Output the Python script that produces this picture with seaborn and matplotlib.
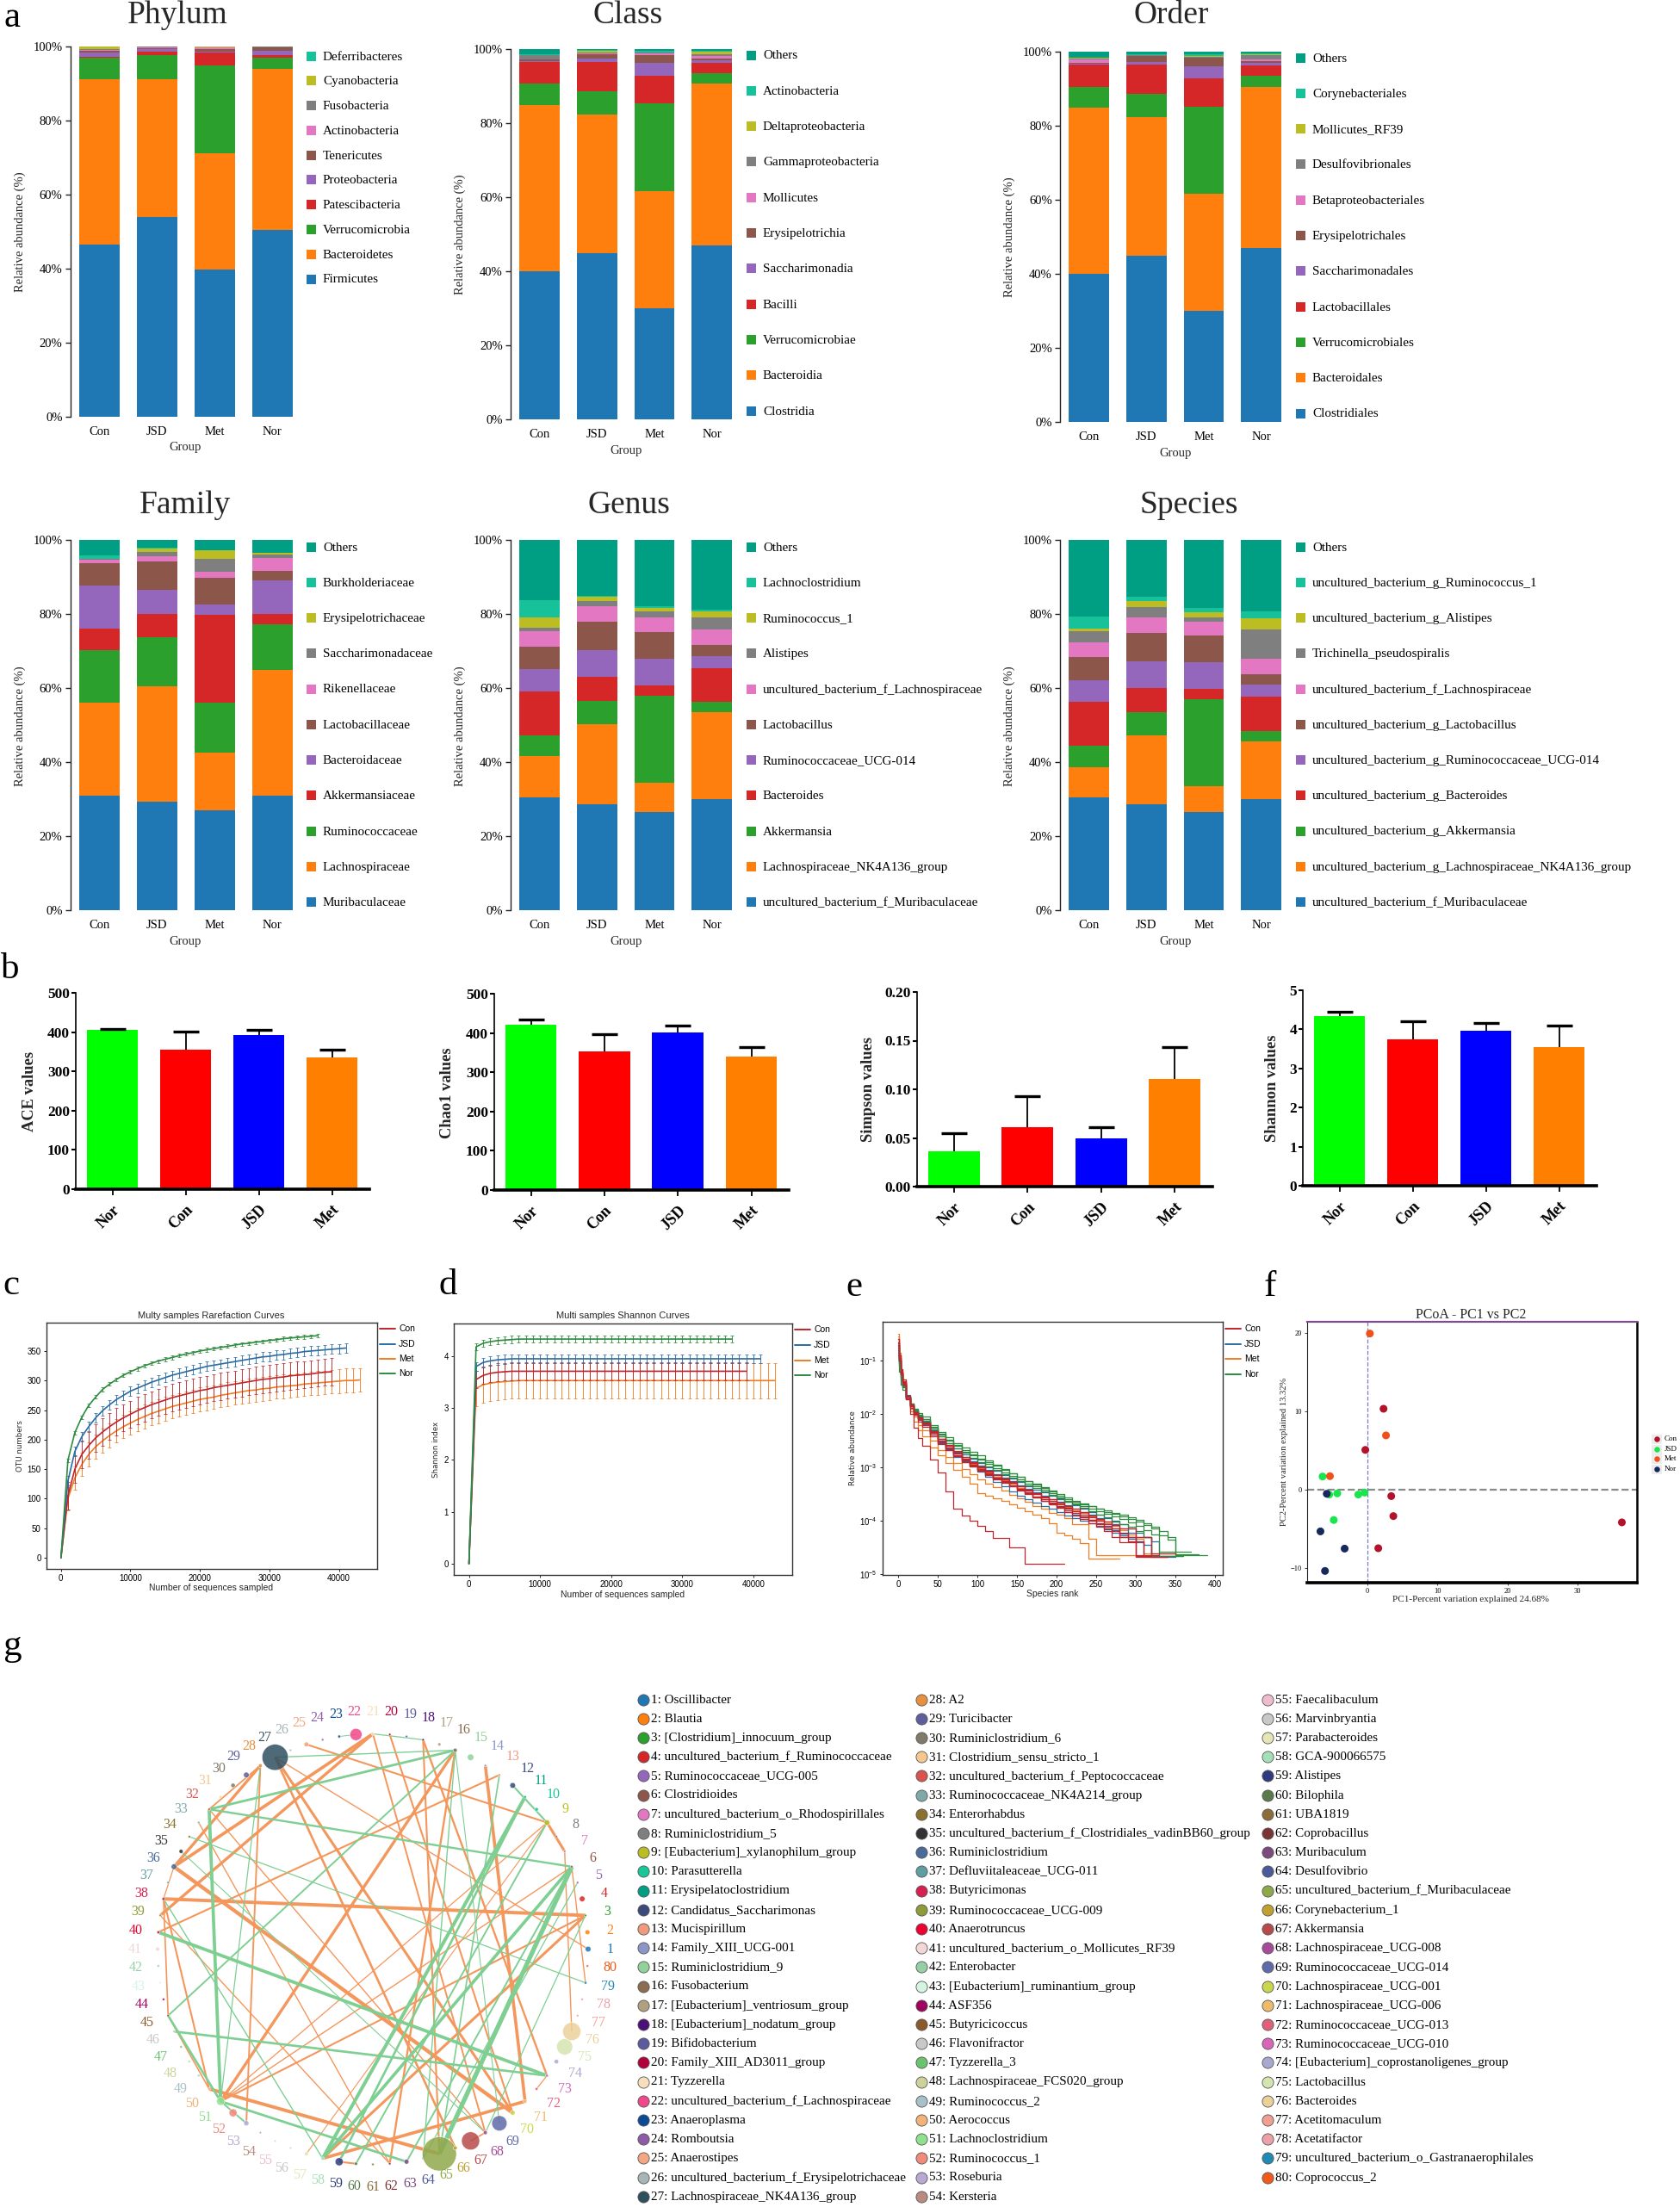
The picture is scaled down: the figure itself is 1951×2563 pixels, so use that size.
import numpy as np
import pandas as pd
import matplotlib
matplotlib.use('Agg')
import matplotlib.pyplot as plt
from matplotlib.patches import Rectangle
import seaborn as sns

sns.set_theme(style="ticks")
plt.rcParams['font.family'] = ['Liberation Serif', 'DejaVu Sans']
plt.rcParams['mathtext.fontset'] = 'dejavusans'

W, H = 1951, 2563

# ---------- panel a: stacked composition, cumulative tops ----------
groups = ['Con', 'JSD', 'Met', 'Nor']
stack_colors = ['#1f77b4', '#ff7f0e', '#2ca02c', '#d62728', '#9467bd', '#8c564b', '#e377c2',
                '#7f7f7f', '#bcbd22', '#17c29a', '#009e83']

phylum_names = ['Firmicutes', 'Bacteroidetes', 'Verrucomicrobia', 'Patescibacteria', 'Proteobacteria',
                'Tenericutes', 'Actinobacteria', 'Fusobacteria', 'Cyanobacteria', 'Deferribacteres']
phylum_con = [46.4, 91.1, 96.8, 97.0, 98.3, 98.7, 99.0, 99.3, 99.9, 100]
phylum_jsd = [53.8, 91.1, 97.5, 98.5, 99.1, 99.5, 99.7, 99.8, 99.85, 100]
phylum_met = [39.6, 71.1, 94.7, 98.2, 98.4, 99.2, 99.6, 99.75, 99.85, 100]
phylum_nor = [50.3, 93.9, 96.8, 97.5, 98.7, 99.6, 99.75, 99.85, 99.9, 100]

class_names = ['Clostridia', 'Bacteroidia', 'Verrucomicrobiae', 'Bacilli', 'Saccharimonadia', 'Erysipelotrichia',
               'Mollicutes', 'Gammaproteobacteria', 'Deltaproteobacteria', 'Actinobacteria', 'Others']
class_con = [40, 84.9, 90.6, 96.6, 96.7, 97.2, 97.2, 98.3, 98.4, 98.5, 100]
class_jsd = [45, 82.4, 88.7, 96.5, 97.4, 98.6, 98.8, 99.1, 99.6, 99.7, 100]
class_met = [30, 61.6, 85.3, 92.9, 96.2, 98.3, 98.8, 99.0, 99.05, 99.6, 100]
class_nor = [47, 90.7, 93.5, 96.2, 97.0, 97.5, 98.2, 98.5, 99.3, 99.6, 100]

order_names = ['Clostridiales', 'Bacteroidales', 'Verrucomicrobiales', 'Lactobacillales', 'Saccharimonadales',
               'Erysipelotrichales', 'Betaproteobacteriales', 'Desulfovibrionales', 'Mollicutes_RF39',
               'Corynebacteriales', 'Others']
order_con = [40, 84.9, 90.4, 96.6, 96.7, 97.0, 97.8, 98.2, 98.3, 98.3, 100]
order_jsd = [45, 82.3, 88.7, 96.4, 97.2, 98.8, 98.8, 99.0, 99.1, 99.2, 100]
order_met = [30, 61.6, 85.2, 92.8, 96.1, 98.3, 98.4, 98.5, 98.9, 99.3, 100]
order_nor = [47, 90.5, 93.4, 96.2, 97.0, 97.4, 97.9, 99.1, 99.3, 99.6, 100]

family_names = ['Muribaculaceae', 'Lachnospiraceae', 'Ruminococcaceae', 'Akkermansiaceae', 'Bacteroidaceae',
                'Lactobacillaceae', 'Rikenellaceae', 'Saccharimonadaceae', 'Erysipelotrichaceae',
                'Burkholderiaceae', 'Others']
family_con = [31, 56, 70.3, 76, 87.7, 93.7, 94.7, 94.9, 94.95, 95.8, 100]
family_jsd = [29.2, 60.5, 73.7, 80, 86.6, 94.2, 95.6, 96.7, 97.7, 97.8, 100]
family_met = [26.9, 42.6, 56.1, 79.8, 82.5, 89.8, 91.4, 94.9, 97.1, 97.2, 100]
family_nor = [31, 64.8, 77.1, 80, 89, 91.7, 95.2, 96, 96.5, 96.6, 100]

genus_names = ['uncultured_bacterium_f_Muribaculaceae', 'Lachnospiraceae_NK4A136_group', 'Akkermansia', 'Bacteroides',
               'Ruminococcaceae_UCG-014', 'Lactobacillus', 'uncultured_bacterium_f_Lachnospiraceae', 'Alistipes',
               'Ruminococcus_1', 'Lachnoclostridium', 'Others']
genus_con = [30.4, 41.7, 47.3, 59.1, 65.1, 71.2, 75.3, 76.3, 79.1, 83.7, 100]
genus_jsd = [28.7, 50.2, 56.6, 63, 70.3, 77.9, 82.1, 83.6, 84.7, 84.8, 100]
genus_met = [26.6, 34.4, 58, 60.8, 67.9, 75.2, 79, 80.7, 81.6, 82.2, 100]
genus_nor = [30.1, 53.4, 56.2, 65.4, 68.7, 71.6, 75.7, 79.1, 80.6, 81.1, 100]

species_names = ['uncultured_bacterium_f_Muribaculaceae', 'uncultured_bacterium_g_Lachnospiraceae_NK4A136_group',
                 'uncultured_bacterium_g_Akkermansia', 'uncultured_bacterium_g_Bacteroides',
                 'uncultured_bacterium_g_Ruminococcaceae_UCG-014', 'uncultured_bacterium_g_Lactobacillus',
                 'uncultured_bacterium_f_Lachnospiraceae', 'Trichinella_pseudospiralis',
                 'uncultured_bacterium_g_Alistipes', 'uncultured_bacterium_g_Ruminococcus_1', 'Others']
species_con = [30.4, 38.7, 44.4, 56.2, 62.2, 68.4, 72.4, 75.3, 76.1, 79.2, 100]
species_jsd = [28.7, 47.2, 53.6, 60, 67.3, 74.9, 79, 81.9, 83.5, 84.7, 100]
species_met = [26.6, 33.4, 57, 59.8, 66.9, 74.3, 77.9, 79, 80.5, 81.7, 100]
species_nor = [30.1, 45.6, 48.4, 57.6, 61, 63.8, 67.9, 75.7, 78.8, 80.6, 100]

# ---------- panel b: alpha diversity ----------
alpha_order = ['Nor', 'Con', 'JSD', 'Met']
alpha_colors = ['#00ff00', '#ff0000', '#0000ff', '#ff8000']
ace_values = [405, 355, 393, 335]
ace_tops = [408, 402, 405, 355]
chao_values = [421, 353, 401, 340]
chao_tops = [435, 398, 418, 365]
simpson_values = [0.036, 0.0607, 0.05, 0.111]
simpson_tops = [0.0548, 0.093, 0.0607, 0.1437]
shannon_values = [4.35, 3.74, 3.97, 3.55]
shannon_tops = [4.46, 4.21, 4.155, 4.095]

# ---------- panel c: rarefaction, one value every 1000 sequences ----------
curve_colors = {'Con': '#c0242c', 'JSD': '#2b6ca3', 'Met': '#f07d22', 'Nor': '#2e8b3f'}
draw_order = ['Met', 'Con', 'JSD', 'Nor']
otu_con = [0, 105, 150, 175, 190, 203, 213, 222, 230, 237, 243, 249, 254, 259, 263, 267, 271, 274, 277, 280,
           283, 285, 288, 290, 292, 294, 296, 298, 300, 302, 303, 305, 306, 308, 309, 310, 311, 313, 314, 315]
otu_jsd = [0, 130, 180, 205, 222, 237, 249, 259, 268, 275, 282, 287, 292, 297, 301, 305, 309, 312, 315, 318,
           321, 324, 326, 328, 330, 332, 334, 336, 338, 340, 341, 343, 344, 346, 347, 349, 350, 351, 352, 353, 354, 355]
otu_met = [0, 100, 135, 158, 175, 188, 198, 207, 215, 222, 228, 234, 239, 244, 248, 252, 256, 259, 262, 265,
           268, 270, 272, 275, 277, 279, 281, 283, 284, 286, 287, 289, 290, 291, 292, 294, 295, 296, 297, 298,
           299, 300, 300, 301]
otu_nor = [0, 165, 212, 238, 258, 272, 285, 294, 302, 309, 315, 320, 325, 329, 333, 336, 339, 342, 345, 347,
           350, 352, 354, 356, 358, 360, 362, 363, 365, 366, 368, 369, 371, 372, 373, 374, 375, 376]
otu_err = {'Con': 23, 'JSD': 8, 'Met': 20, 'Nor': 3}

# ---------- panel d: Shannon curves ----------
sh_con = [0, 3.55, 3.63, 3.67, 3.69, 3.70] + [3.71] * 34
sh_jsd = [0, 3.80, 3.88, 3.91, 3.93, 3.94] + [3.95] * 36
sh_met = [0, 3.38, 3.45, 3.48, 3.50, 3.51, 3.52] + [3.53] * 37
sh_nor = [0, 4.18, 4.25, 4.28, 4.30, 4.31, 4.32] + [4.33] * 31
sh_err = {'Con': 0.17, 'JSD': 0.09, 'Met': 0.34, 'Nor': 0.07}

# ---------- panel e: rank abundance, log10 abundance by sample ----------
ranks_e = [0, 1, 3, 5, 10, 15, 20, 25, 30] + list(range(40, 400, 10))
rank_curves = {
    'Met': [
        [-0.5, -0.85, -1.15, -1.35, -1.7, -1.95, -2.15, -2.3, -2.42, -2.62, -2.78, -2.92, -3.05, -3.18, -3.3, -3.48, -3.53, -3.58, -3.63, -3.7, -3.75, -3.82, -3.88, -3.95, -4.05, -4.23, -4.28, -4.34, -4.42, -4.71, -4.71, -4.71, -4.71, -4.71],
        [-0.55, -0.9, -1.18, -1.38, -1.68, -1.9, -2.05, -2.2, -2.3, -2.5, -2.67, -2.8, -2.92, -3.03, -3.13, -3.23, -3.3, -3.37, -3.44, -3.51, -3.58, -3.64, -3.72, -3.78, -3.85, -3.88, -3.95, -4.07, -4.07, -4.34, -4.64, -4.64, -4.64, -4.64, -4.64, -4.64],
        [-0.6, -0.95, -1.2, -1.42, -1.68, -1.85, -1.97, -2.08, -2.18, -2.36, -2.5, -2.62, -2.74, -2.84, -2.94, -3.02, -3.1, -3.17, -3.24, -3.31, -3.38, -3.44, -3.5, -3.56, -3.62, -3.68, -3.74, -3.8, -3.86, -3.92, -3.98, -4.04, -4.1, -4.18, -4.26, -4.34, -4.62, -4.62, -4.62, -4.62, -4.62],
    ],
    'JSD': [
        [-0.7, -1.0, -1.25, -1.45, -1.7, -1.85, -1.98, -2.08, -2.18, -2.36, -2.52, -2.65, -2.77, -2.88, -2.97, -3.05, -3.14, -3.21, -3.28, -3.35, -3.42, -3.49, -3.56, -3.63, -3.7, -3.76, -3.83, -3.88, -3.93, -3.99, -4.05, -4.1, -4.17, -4.24, -4.3, -4.38, -4.68, -4.68, -4.68, -4.68],
        [-0.65, -0.95, -1.2, -1.4, -1.65, -1.8, -1.93, -2.03, -2.12, -2.28, -2.42, -2.54, -2.65, -2.75, -2.84, -2.92, -3.0, -3.07, -3.14, -3.21, -3.28, -3.35, -3.41, -3.47, -3.53, -3.59, -3.65, -3.71, -3.77, -3.83, -3.89, -3.95, -4.01, -4.07, -4.14, -4.22, -4.3, -4.38, -4.66, -4.66, -4.66, -4.66],
        [-0.8, -1.05, -1.3, -1.5, -1.72, -1.86, -1.98, -2.09, -2.19, -2.38, -2.54, -2.68, -2.8, -2.9, -2.99, -3.08, -3.18, -3.27, -3.36, -3.45, -3.53, -3.6, -3.66, -3.72, -3.78, -3.84, -3.9, -3.95, -4.0, -4.05, -4.1, -4.16, -4.22, -4.28, -4.34, -4.4, -4.45, -4.68, -4.68, -4.68, -4.68],
        [-0.72, -1.02, -1.26, -1.46, -1.68, -1.83, -1.95, -2.05, -2.14, -2.31, -2.46, -2.59, -2.7, -2.8, -2.89, -2.97, -3.05, -3.12, -3.19, -3.26, -3.33, -3.4, -3.47, -3.53, -3.59, -3.65, -3.71, -3.77, -3.83, -3.89, -3.95, -4.01, -4.07, -4.14, -4.22, -4.3, -4.3, -4.66, -4.66, -4.66, -4.66],
    ],
    'Nor': [
        [-0.9, -1.2, -1.45, -1.55, -1.7, -1.8, -1.9, -1.98, -2.05, -2.2, -2.33, -2.44, -2.54, -2.63, -2.71, -2.78, -2.87, -2.95, -3.03, -3.11, -3.18, -3.25, -3.31, -3.37, -3.45, -3.53, -3.59, -3.64, -3.69, -3.73, -3.77, -3.81, -3.85, -3.89, -3.94, -3.99, -4.05, -4.12, -4.2, -4.31, -4.63, -4.63, -4.63, -4.63],
        [-0.75, -1.05, -1.3, -1.48, -1.68, -1.8, -1.92, -2.01, -2.1, -2.25, -2.39, -2.5, -2.6, -2.7, -2.78, -2.86, -2.94, -3.02, -3.09, -3.16, -3.23, -3.3, -3.36, -3.42, -3.49, -3.56, -3.62, -3.67, -3.72, -3.77, -3.82, -3.87, -3.92, -3.97, -4.03, -4.1, -4.18, -4.26, -4.58, -4.58, -4.58, -4.58, -4.58],
        [-0.7, -1.0, -1.25, -1.45, -1.68, -1.82, -1.94, -2.03, -2.12, -2.28, -2.42, -2.54, -2.64, -2.73, -2.82, -2.9, -2.98, -3.05, -3.12, -3.19, -3.26, -3.33, -3.39, -3.45, -3.52, -3.58, -3.64, -3.7, -3.76, -3.82, -3.88, -3.94, -4.0, -4.06, -4.12, -4.2, -4.3, -4.66, -4.66, -4.66, -4.66, -4.66],
        [-0.85, -1.1, -1.35, -1.5, -1.7, -1.82, -1.93, -2.02, -2.1, -2.24, -2.37, -2.48, -2.58, -2.67, -2.75, -2.83, -2.9, -2.97, -3.04, -3.11, -3.18, -3.25, -3.32, -3.38, -3.44, -3.5, -3.56, -3.62, -3.68, -3.73, -3.78, -3.83, -3.87, -3.92, -3.97, -4.02, -4.08, -4.15, -4.28, -4.35, -4.64, -4.64, -4.64, -4.64, -4.64],
    ],
    'Con': [
        [-0.6, -0.95, -1.2, -1.4, -1.66, -1.82, -1.96, -2.07, -2.16, -2.33, -2.47, -2.6, -2.72, -2.83, -2.92, -3.0, -3.08, -3.15, -3.22, -3.29, -3.36, -3.43, -3.5, -3.56, -3.63, -3.7, -3.76, -3.82, -3.88, -3.94, -4.0, -4.07, -4.15, -4.22, -4.3, -4.38, -4.68, -4.68, -4.68, -4.68],
        [-0.75, -1.0, -1.25, -1.45, -1.7, -1.85, -1.98, -2.08, -2.18, -2.35, -2.5, -2.62, -2.74, -2.85, -2.95, -3.03, -3.11, -3.19, -3.26, -3.33, -3.4, -3.47, -3.54, -3.6, -3.66, -3.72, -3.78, -3.85, -3.92, -3.98, -4.05, -4.12, -4.2, -4.3, -4.38, -4.66, -4.66, -4.66],
        [-0.65, -0.9, -1.2, -1.38, -1.68, -1.86, -2.02, -2.14, -2.24, -2.42, -2.56, -2.68, -2.79, -2.9, -2.99, -3.07, -3.15, -3.22, -3.29, -3.36, -3.44, -3.5, -3.57, -3.63, -3.7, -3.76, -3.83, -3.9, -3.97, -4.05, -4.12, -4.2, -4.3, -4.4, -4.4, -4.68, -4.68],
        [-0.7, -1.0, -1.22, -1.42, -1.68, -1.83, -1.96, -2.06, -2.16, -2.32, -2.46, -2.58, -2.69, -2.8, -2.9, -2.98, -3.06, -3.14, -3.21, -3.28, -3.35, -3.42, -3.48, -3.54, -3.6, -3.66, -3.72, -3.78, -3.84, -3.9, -3.96, -4.02, -4.08, -4.15, -4.15, -4.3, -4.3, -4.62, -4.62, -4.62, -4.62],
        [-0.68, -0.98, -1.24, -1.44, -1.72, -1.88, -2.0, -2.11, -2.2, -2.38, -2.53, -2.66, -2.77, -2.87, -2.96, -3.04, -3.12, -3.2, -3.27, -3.34, -3.41, -3.48, -3.55, -3.62, -3.68, -3.74, -3.8, -3.86, -3.93, -4.0, -4.07, -4.14, -4.14, -4.3, -4.3, -4.64, -4.64, -4.64, -4.64],
        [-0.6, -0.9, -1.15, -1.35, -1.7, -2.0, -2.25, -2.45, -2.6, -2.85, -3.1, -3.45, -3.78, -3.9, -4.0, -4.1, -4.19, -4.32, -4.32, -4.5, -4.5, -4.8, -4.8, -4.8, -4.8, -4.8, -4.8],
    ],
}

# ---------- panel f: PCoA ----------
pcoa_group = ['Con'] * 6 + ['JSD'] * 6 + ['Met'] * 3 + ['Nor'] * 4
pc1 = [2.3, -0.3, 3.4, 3.7, 1.55, 36.3, -6.4, -5.45, -4.3, -1.3, -0.4, -4.8, 0.35, 2.65, -5.35, -5.8, -6.7, -3.25, -6.05]
pc2 = [10.3, 5.05, -0.85, -3.4, -7.5, -4.2, 1.65, -0.65, -0.5, -0.65, -0.4, -3.9, 19.9, 6.9, 1.7, -0.55, -5.35, -7.55, -10.4]
pcoa_colors = {'Con': '#b3122b', 'JSD': '#19e64d', 'Met': '#f0501a', 'Nor': '#16285c'}

# ---------- panel g: network ----------
net_names = ['Oscillibacter', 'Blautia', '[Clostridium]_innocuum_group', 'uncultured_bacterium_f_Ruminococcaceae',
             'Ruminococcaceae_UCG-005', 'Clostridioides', 'uncultured_bacterium_o_Rhodospirillales', 'Ruminiclostridium_5',
             '[Eubacterium]_xylanophilum_group', 'Parasutterella', 'Erysipelatoclostridium', 'Candidatus_Saccharimonas',
             'Mucispirillum', 'Family_XIII_UCG-001', 'Ruminiclostridium_9', 'Fusobacterium', '[Eubacterium]_ventriosum_group',
             '[Eubacterium]_nodatum_group', 'Bifidobacterium', 'Family_XIII_AD3011_group', 'Tyzzerella',
             'uncultured_bacterium_f_Lachnospiraceae', 'Anaeroplasma', 'Romboutsia', 'Anaerostipes',
             'uncultured_bacterium_f_Erysipelotrichaceae', 'Lachnospiraceae_NK4A136_group',
             'A2', 'Turicibacter', 'Ruminiclostridium_6', 'Clostridium_sensu_stricto_1', 'uncultured_bacterium_f_Peptococcaceae',
             'Ruminococcaceae_NK4A214_group', 'Enterorhabdus', 'uncultured_bacterium_f_Clostridiales_vadinBB60_group',
             'Ruminiclostridium', 'Defluviitaleaceae_UCG-011', 'Butyricimonas', 'Ruminococcaceae_UCG-009', 'Anaerotruncus',
             'uncultured_bacterium_o_Mollicutes_RF39', 'Enterobacter', '[Eubacterium]_ruminantium_group', 'ASF356',
             'Butyricicoccus', 'Flavonifractor', 'Tyzzerella_3', 'Lachnospiraceae_FCS020_group', 'Ruminococcus_2', 'Aerococcus',
             'Lachnoclostridium', 'Ruminococcus_1', 'Roseburia', 'Kersteria',
             'Faecalibaculum', 'Marvinbryantia', 'Parabacteroides', 'GCA-900066575', 'Alistipes', 'Bilophila', 'UBA1819',
             'Coprobacillus', 'Muribaculum', 'Desulfovibrio', 'uncultured_bacterium_f_Muribaculaceae', 'Corynebacterium_1',
             'Akkermansia', 'Lachnospiraceae_UCG-008', 'Ruminococcaceae_UCG-014', 'Lachnospiraceae_UCG-001',
             'Lachnospiraceae_UCG-006', 'Ruminococcaceae_UCG-013', 'Ruminococcaceae_UCG-010',
             '[Eubacterium]_coprostanoligenes_group', 'Lactobacillus', 'Bacteroides', 'Acetitomaculum', 'Acetatifactor',
             'uncultured_bacterium_o_Gastranaerophilales', 'Coprococcus_2']
net_colors = ['#1f77b4', '#ff7f0e', '#2ca02c', '#d62728', '#9467bd', '#8c564b', '#e377c2', '#7f7f7f', '#bcbd22', '#16c79a',
              '#009e83', '#3b4a7a', '#f0997d', '#8c96c6', '#90d29a', '#8c6d4f', '#b0a080', '#4b0f7a', '#5b5a9e', '#b2003a',
              '#f8dfbc', '#f0488b', '#0b4a95', '#8e5ba6', '#f4a582', '#a6b5b5', '#2f4f5f', '#e69040', '#5e5e9e', '#807a6a',
              '#f5c78e', '#d9534f', '#7fa8a8', '#8c7030', '#333333', '#4a6a9a', '#5f9ea0', '#d6204f', '#8f9b3a', '#ee0033',
              '#f3d6d6', '#97cfa5', '#d5f5e3', '#a0005f', '#8b5a2b', '#c8c8c8', '#6cc36f', '#ccd29a', '#a8c0c8', '#f2b27a',
              '#8fe08f', '#f08a7a', '#b8a8d4', '#b88a80', '#f0bccb', '#c8c8c8', '#e5e5b5', '#a3e0b5', '#2f3a80', '#5a7a4a',
              '#8c6d3a', '#7a3535', '#7b4a80', '#4a5a9a', '#8fa84a', '#c0a030', '#b84a4a', '#a84a9a', '#5f6aa8', '#c8d84a',
              '#eebb6a', '#e0607a', '#d866b8', '#a8a8d0', '#d5e5b0', '#ecd09a', '#f0a090', '#eca0a8', '#1f8ab4', '#f05a1a']
# node diameter, as measured on the 3x crop
net_sizes = [14, 12, 6, 14, 6, 6, 6, 6, 14, 9, 6, 14, 6, 6, 16, 10, 8, 6, 6, 6, 8, 30, 7, 6, 12, 6, 65, 9, 14, 11,
             6, 6, 6, 6, 10, 14, 6, 8, 6, 7, 10, 6, 5, 6, 6, 6, 6, 6, 6, 6, 20, 20, 13, 5, 5, 5, 10, 8, 20, 8,
             6, 6, 12, 5, 85, 10, 45, 10, 38, 12, 9, 7, 7, 11, 40, 45, 6, 6, 7, 6]
edges_orange = [(38, 3, 2.8), (36, 70, 3.1), (27, 70, 2.2), (27, 66, 1.9), (36, 21, 2.6), (39, 21, 2.4), (28, 36, 2.4),
                (28, 32, 1.3), (14, 71, 2.6), (18, 73, 1.7), (20, 70, 1.5), (21, 68, 1.4), (25, 9, 1.5), (27, 1, 1),
                (16, 51, 2.4), (13, 40, 1.5), (3, 58, 2.2), (58, 71, 2.6), (51, 3, 1.5), (51, 9, 0.9), (51, 6, 1),
                (50, 65, 2.8), (18, 65, 1.5), (16, 62, 1.7), (6, 79, 1), (7, 76, 1), (9, 7, 2.2), (53, 28, 1.4),
                (38, 45, 1.2), (38, 50, 1.5), (33, 62, 1), (32, 68, 1), (39, 62, 1), (57, 9, 0.8), (67, 68, 1.3),
                (59, 60, 1.5), (72, 73, 0.9), (36, 38, 0.9), (45, 50, 1.2)]
edges_green = [(16, 32, 2), (27, 16, 1), (21, 18, 0.9), (22, 23, 0.7), (32, 6, 1.7), (32, 51, 2.7), (28, 51, 0.9),
               (34, 79, 0.9), (35, 68, 0.8), (16, 45, 1.4), (16, 64, 1), (13, 65, 1.2), (11, 58, 2.9), (11, 59, 1.9),
               (12, 9, 1.5), (9, 60, 1.4), (6, 65, 3.8), (6, 58, 2.6), (6, 63, 1.4), (5, 64, 0.9), (40, 73, 2.7),
               (46, 73, 1.9), (38, 58, 1), (45, 51, 1.9), (51, 63, 2), (51, 53, 1.4), (3, 68, 0.9), (16, 69, 0.8)]

# ---------- layout helpers, all in reference pixels ----------
fig = plt.figure(figsize=(W / 100, H / 100), dpi=100, facecolor='white')

ov = fig.add_axes([0, 0, 1, 1], zorder=10)
ov.set_xlim(0, W)
ov.set_ylim(H, 0)
ov.axis('off')


def px_axes(left, top, right, bottom):
    return fig.add_axes([left / W, 1 - bottom / H, (right - left) / W, (bottom - top) / H])


def frac(ax, x, y):
    p = ax.get_position()
    return (x / W - p.x0) / p.width, ((1 - y / H) - p.y0) / p.height


def set_title_px(ax, text, x, y, **kw):
    fx, fy = frac(ax, x, y)
    ax.set_title(text, x=fx, y=fy, va='center', ha='center', pad=0, **kw)


def set_labels_px(ax, xlabel, xpos, ylabel, ypos, xkw, ykw):
    if xlabel:
        ax.set_xlabel(xlabel, va='center', **xkw)
        ax.xaxis.set_label_coords(*frac(ax, *xpos))
    if ylabel:
        ax.set_ylabel(ylabel, va='center', **ykw)
        ax.yaxis.set_label_coords(*frac(ax, *ypos))


for letter, lx, ly in [('a', 14, 21), ('b', 12, 1126), ('c', 13, 1493), ('d', 520, 1493),
                       ('e', 992, 1495), ('f', 1475, 1495), ('g', 14, 1912)]:
    ov.text(lx, ly, letter, fontsize=31, ha='center', va='center', color='black')


def stacked_panel(title, names, con, jsd, met, nor, left, top, title_xy, group_xy, ylabel_xy, legend_x, legend_y):
    spacing = (left[1] - left[0])
    ax = px_axes(left[0], top, left[0] + spacing, top + 430)
    tops = np.array([con, jsd, met, nor])
    for i in reversed(range(len(names))):
        sns.barplot(x=groups, y=tops[:, i], color=stack_colors[i], saturation=1, width=0.7,
                    linewidth=0, ax=ax)
    ax.set_xlim(-0.506, 3.5)
    ax.set_ylim(0, 100)
    ax.set_yticks(range(0, 101, 20))
    ax.set_yticklabels([f'{v}%' for v in range(0, 101, 20)])
    ax.tick_params(axis='y', labelsize=10.5, length=4.5, width=1, pad=2, color='#222222', labelcolor='black')
    ax.tick_params(axis='x', labelsize=10.5, length=0, pad=8, labelcolor='black')
    sns.despine(ax=ax, bottom=True)
    ax.spines['left'].set_linewidth(1)
    ax.spines['left'].set_color('#222222')
    set_title_px(ax, title, title_xy[0], title_xy[1] + 2, fontsize=27)
    set_labels_px(ax, 'Group', group_xy, 'Relative abundance (%)', ylabel_xy,
                  dict(fontsize=10.5), dict(fontsize=10.5))
    rows = np.linspace(legend_y[0], legend_y[1], len(names))
    for row, i in zip(rows, reversed(range(len(names)))):
        ov.add_patch(Rectangle((legend_x, row - 5.5), 11, 11, color=stack_colors[i], lw=0))
        ov.text(legend_x + 19, row + 1, names[i], fontsize=10.9, va='center', ha='left', color='black')


stacked_panel('Phylum', phylum_names, phylum_con, phylum_jsd, phylum_met, phylum_nor, (81.6, 349.6), 53.6,
              (206, 16), (215.5, 520), (23, 269), 356, (65, 324))
stacked_panel('Class', class_names, class_con, class_jsd, class_met, class_nor, (593, 860), 57,
              (729, 16), (727, 523), (534, 272), 867, (64, 477))
stacked_panel('Order', order_names, order_con, order_jsd, order_met, order_nor, (1231, 1498), 60,
              (1360, 16), (1365, 526), (1172, 275), 1505, (67, 480))
stacked_panel('Family', family_names, family_con, family_jsd, family_met, family_nor, (81.6, 349.6), 627,
              (215, 585), (215.5, 1094), (23, 843), 356, (635, 1047.5))
stacked_panel('Genus', genus_names, genus_con, genus_jsd, genus_met, genus_nor, (593, 860), 627,
              (730, 585), (727, 1094), (534, 843), 867, (635, 1047.5))
stacked_panel('Species', species_names, species_con, species_jsd, species_met, species_nor, (1231, 1498), 627,
              (1381, 585), (1365, 1094), (1172, 843), 1505, (635, 1047.5))


# ---------- panel b ----------
def alpha_panel(label, values, err_tops, box, ymax, ticks, fmt, ylabel_xy):
    ax = px_axes(*box)
    sns.barplot(x=alpha_order, y=values, hue=alpha_order, palette=alpha_colors, legend=False,
                saturation=1, width=0.7, linewidth=0, ax=ax)
    lower = np.zeros(4)
    upper = np.array(err_tops) - np.array(values)
    eb = ax.errorbar(range(4), values, yerr=[lower, upper], fmt='none', ecolor='black',
                     elinewidth=1.3, capsize=10.5, capthick=2.4, zorder=5)
    eb[1][0].set_visible(False)
    ax.set_xlim(-0.5, 3.51)
    ax.set_ylim(0, ymax)
    ax.set_yticks(ticks)
    ax.set_yticklabels([fmt.format(t) for t in ticks])
    ax.tick_params(axis='y', labelsize=12.5, length=3.5, width=1.5, pad=1.5, labelcolor='black', color='black')
    ax.tick_params(axis='x', length=5, width=1.3, pad=6, labelcolor='black', color='black')
    for t in ax.get_yticklabels():
        t.set_fontweight('bold')
    for t in ax.get_xticklabels():
        t.set(fontsize=13, fontweight='bold', rotation=45, ha='right', va='top', rotation_mode='anchor')
    sns.despine(ax=ax)
    ax.spines['left'].set_linewidth(1.2)
    ax.spines['left'].set_color('black')
    ax.spines['bottom'].set_linewidth(2.6)
    ax.spines['bottom'].set_color('black')
    set_labels_px(ax, None, None, label, ylabel_xy, {}, dict(fontsize=13.3, fontweight='bold'))


alpha_panel('ACE values', ace_values, ace_tops, (88, 1153, 429, 1381), 500, range(0, 501, 100), '{:d}', (34, 1267))
alpha_panel('Chao1 values', chao_values, chao_tops, (574, 1154, 916, 1382), 500, range(0, 501, 100), '{:d}', (520, 1269))
alpha_panel('Simpson values', simpson_values, simpson_tops, (1065, 1152, 1408, 1378), 0.2,
            [0, 0.05, 0.1, 0.15, 0.2], '{:.2f}', (1008, 1265))
alpha_panel('Shannon values', shannon_values, shannon_tops, (1513, 1150, 1854, 1377), 5, range(0, 6), '{:d}', (1477, 1264))


# ---------- panels c, d, e ----------
def box_style(ax):
    ax.tick_params(axis='both', labelsize=7, length=2.5, width=0.7, pad=2, labelfontfamily='Liberation Sans',
                   color='#222222', labelcolor='black')
    for s in ax.spines.values():
        s.set_visible(True)
        s.set_linewidth(1)
        s.set_color('#333333')


def line_legend(x, rows):
    for g, row in zip(groups, rows):
        ov.plot([x, x + 18], [row, row], color=curve_colors[g], lw=1.4)
        ov.text(x + 22, row, g, fontsize=7.5, va='center', ha='left', family='Liberation Sans', color='black')


def curve_panel(box, series, errs, xlim, ylim, title, title_xy, xlabel, xlabel_xy, ylabel, ylabel_xy):
    ax = px_axes(*box)
    for g in draw_order:
        vals = series[g]
        x = np.arange(len(vals)) * 1000
        ax.errorbar(x[1:], vals[1:], yerr=errs[g], fmt='none', ecolor=curve_colors[g], elinewidth=0.7,
                    capsize=1.2, capthick=0.6, alpha=0.9)
        sns.lineplot(x=x, y=vals, color=curve_colors[g], lw=1.2, errorbar=None, ax=ax)
    ax.set_xlim(*xlim)
    ax.set_ylim(*ylim)
    ax.set_xticks(range(0, 40001, 10000))
    box_style(ax)
    set_title_px(ax, title, title_xy[0], title_xy[1], fontsize=8, family='Liberation Sans')
    set_labels_px(ax, xlabel, xlabel_xy, ylabel, ylabel_xy, dict(fontsize=7.5, family='Liberation Sans'),
                  dict(fontsize=6.3, family='DejaVu Sans'))
    return ax


ax_c = curve_panel((54, 1536, 437.5, 1822), {'Con': otu_con, 'JSD': otu_jsd, 'Met': otu_met, 'Nor': otu_nor}, otu_err,
                   (-2082, 45450), (-19, 398), 'Multy samples Rarefaction Curves', (245.5, 1528),
                   'Number of sequences sampled', (245.5, 1844), 'OTU numbers', (23, 1679))
ax_c.set_yticks(range(0, 351, 50))
line_legend(441, [1543, 1561, 1578, 1595])

ax_d = curve_panel((527, 1537, 920, 1829), {'Con': sh_con, 'JSD': sh_jsd, 'Met': sh_met, 'Nor': sh_nor}, sh_err,
                   (-2130, 45450), (-0.216, 4.63), 'Multi samples Shannon Curves', (723, 1528),
                   'Number of sequences sampled', (723, 1852), 'Shannon index', (506, 1683))
ax_d.set_yticks(range(0, 5))
line_legend(923, [1544, 1562, 1580, 1597])

ax_e = px_axes(1025, 1535, 1420, 1829)
for g, curves in rank_curves.items():
    for vals in curves:
        sns.lineplot(x=ranks_e[:len(vals)], y=10.0 ** np.array(vals), color=curve_colors[g], lw=0.9,
                     errorbar=None, drawstyle='steps-post', ax=ax_e)
ax_e.set_yscale('log')
ax_e.set_xlim(-19.6, 410)
ax_e.set_ylim(10 ** -5.016, 10 ** -0.27)
ax_e.set_xticks(range(0, 401, 50))
ax_e.set_yticks([1e-5, 1e-4, 1e-3, 1e-2, 1e-1])
ax_e.minorticks_off()
box_style(ax_e)
set_labels_px(ax_e, 'Species rank', (1222, 1851), 'Relative abundance', (990, 1682),
              dict(fontsize=7.5, family='Liberation Sans'), dict(fontsize=6.3, family='DejaVu Sans'))
line_legend(1423, [1543, 1561, 1578, 1596])

# ---------- panel f ----------
ax_f = px_axes(1517.5, 1535, 1901, 1838)
pcoa = pd.DataFrame({'PC1': pc1, 'PC2': pc2, 'Group': pcoa_group})
ax_f.axhline(0, color='#8a8a8a', ls='--', lw=1.6, zorder=1)
ax_f.axvline(0, color='#7b7bc8', ls='--', lw=0.9, zorder=1)
sns.scatterplot(data=pcoa, x='PC1', y='PC2', hue='Group', palette=pcoa_colors, s=42, linewidth=0,
                legend=False, zorder=3, ax=ax_f)
ax_f.set_xlim(-8.66, 38.45)
ax_f.set_ylim(-11.9, 21.4)
ax_f.set_xticks([0, 10, 20, 30])
ax_f.set_yticks([-10, 0, 10, 20])
ax_f.tick_params(axis='both', labelsize=6, length=2, width=0.6, pad=2, color='#222222', labelcolor='black')
ax_f.spines['top'].set_color('#7d4d8a')
ax_f.spines['top'].set_linewidth(1.6)
ax_f.spines['left'].set_color('#222222')
ax_f.spines['left'].set_linewidth(0.8)
ax_f.spines['right'].set_color('black')
ax_f.spines['right'].set_linewidth(1.8)
ax_f.spines['right'].set_visible(True)
ax_f.spines['top'].set_visible(True)
ax_f.spines['bottom'].set_color('black')
ax_f.spines['bottom'].set_linewidth(2.6)
set_title_px(ax_f, 'PCoA - PC1 vs PC2', 1708, 1527, fontsize=11.5)
set_labels_px(ax_f, 'PC1-Percent variation explained 24.68%', (1708, 1857),
              'PC2-Percent variation explained 13.32%', (1491, 1686), dict(fontsize=8), dict(fontsize=7.6))
for g, row in zip(groups, [1671, 1683, 1694, 1706]):
    ov.add_patch(Rectangle((1918, row - 5.5), 12, 11, color='#ececec', lw=0))
    ov.scatter([1924], [row], s=22, color=pcoa_colors[g], linewidths=0)
    ov.text(1933, row, g, fontsize=6.5, va='center', ha='left', color='black')

# ---------- panel g ----------
ax_g = px_axes(138, 1968.5, 728, 2558.5)
ax_g.set_xlim(-295, 295)
ax_g.set_ylim(-295, 295)
ax_g.axis('off')
node_ids = np.arange(1, 81)
theta = np.deg2rad((node_ids - 1) * 4.5)
node_x = 250 * np.cos(theta)
node_y = 250 * np.sin(theta)
for edges, col in [(edges_orange, '#f4975c'), (edges_green, '#7fcf93')]:
    for a, b, w in edges:
        ax_g.plot([node_x[a - 1], node_x[b - 1]], [node_y[a - 1], node_y[b - 1]], color=col, lw=w,
                  solid_capstyle='butt', zorder=1)
sns.scatterplot(x=node_x, y=node_y, hue=node_ids, palette=dict(zip(node_ids, net_colors)), size=node_ids,
                sizes=dict(zip(node_ids, (np.array(net_sizes) * 0.335) ** 2)), linewidth=0.4, edgecolor='white',
                alpha=0.85, legend=False, zorder=2, ax=ax_g)
ax_g.set_xlim(-295, 295)
ax_g.set_ylim(-295, 295)
for i, c, t in zip(node_ids, net_colors, theta):
    ax_g.text(276 * np.cos(t), 276 * np.sin(t), str(i), color=c, fontsize=11.5, ha='center', va='center')

for k, (name, col) in enumerate(zip(net_names, net_colors)):
    column = k // 27
    row_y = 1973.5 + (k % 27) * 22.2
    cx = [747, 1070, 1472][column]
    ov.scatter([cx], [row_y], s=90, color=col, edgecolors='#555555', linewidths=0.6)
    ov.text(cx + 9, row_y + 0.5, f'{k + 1}: {name}', fontsize=10.9, va='center', ha='left', color='black')

fig.savefig('out.png', dpi=100)
